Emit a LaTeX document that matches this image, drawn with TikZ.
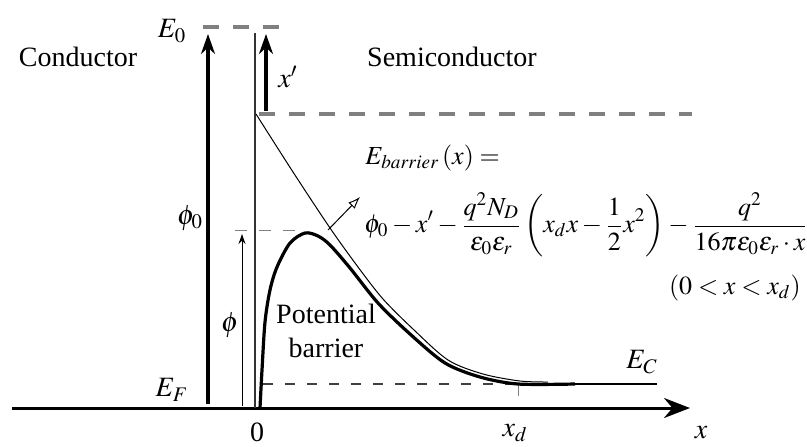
\documentclass[tikz,border=0pt]{standalone}
\usepackage{amsmath}
\usepackage{mathptmx}
\usepackage{fontspec}
\setmainfont{Liberation Serif}
\usetikzlibrary{arrows.meta,positioning}

\begin{document}
\begin{tikzpicture}[x=0.5pt, y=-0.5pt,
  txt/.style={font=\fontsize{14}{17}\selectfont, inner sep=0pt},
  eqtxt/.style={font=\fontsize{13}{16}\selectfont, inner sep=0pt},
  axis/.style={-{Stealth[length=13pt,width=10pt]}, line width=1.5pt},
  bigarrow/.style={-{Stealth[length=10pt,width=7pt]}, line width=#1},
  smallarrow/.style={-{Stealth[length=5pt,width=3.5pt]}, line width=0.5pt},
  openarrow/.style={-{Latex[open,length=6pt,width=4.5pt]}, line width=0.5pt},
  level/.style={gray, line width=2pt, dash pattern=on 8pt off 7pt},
  guide/.style={gray, line width=0.5pt, dash pattern=on 6pt off 6pt},
  fermi/.style={black!75, line width=0.9pt, dash pattern=on 5pt off 6pt},
  barrierline/.style={line width=1.6pt, line join=round}
]
\useasboundingbox (0,0) rectangle (807,446);

% key points
\coordinate (axL) at (12,408);
\coordinate (axR) at (690,408);
\coordinate (cB) at (208,404);
\coordinate (cT) at (208,34);
\coordinate (e0L) at (203,27);
\coordinate (e0R) at (280,27);
\coordinate (iT) at (255,33);
\coordinate (iB) at (255,408);
\coordinate (xpB) at (266,111);
\coordinate (xpT) at (266,34);
\coordinate (lvL) at (256,114);
\coordinate (lvM) at (259,114);
\coordinate (lvR) at (692,114);
\coordinate (phB) at (242,406);
\coordinate (phT) at (242,234);
\coordinate (p0L) at (235,230);
\coordinate (p0R) at (306,230);
\coordinate (efL) at (263,384);
\coordinate (xdE) at (518,384);
\coordinate (xdA) at (518,408);
\coordinate (ecR) at (657,384);
\coordinate (arS) at (328,230);
\coordinate (arT) at (360,197);

% energy axis
\draw[axis] (axL) -- (axR);

% conductor side
\draw[bigarrow=1.6pt] (cB) -- (cT);
\draw[level] (e0L) -- (e0R);
\draw[black!80, line width=0.8pt] (iT) -- (iB);
\draw[smallarrow] (phB) -- (phT);
\draw[guide] (p0L) -- (p0R);

% image force lowering
\draw[bigarrow=2pt] (xpB) -- (xpT);
\draw[level] (lvM) -- (lvR);

% band edges
\draw[fermi] (efL) -- (xdE);
\draw[guide] (xdE) -- (xdA);
\draw[line width=1.2pt] (xdE) -- (ecR);

% band without image force
\draw[line width=0.5pt] plot[smooth, tension=0.5] coordinates {
  (lvL) (293,172) (330,228) (358,267) (383,299) (413,329) (448,360) (483,374) (520,381) (548,382)};

% potential barrier
\draw[barrierline] plot[smooth, tension=0.5] coordinates {
  (260,408) (262,370) (265,322) (270,290) (277,267) (290,243) (305,233)
  (318,236) (330,245) (350,268) (378,303) (410,334) (445,363) (480,377) (xdE) (575,384)};

\draw[openarrow] (arS) -- (arT);

% labels
\node[txt] (cond) at (78,57) {Conductor};
\node[txt] (semi) at (452,57) {Semiconductor};
\node[txt] (E0) at (172,31) {$E_0$};
\node[txt] (xp) at (288,77) {$x'$};
\node[txt] (phi0) at (190,218) {$\phi_0$};
\node[txt] (phi) at (230,325) {$\phi$};
\node[txt] (EF) at (172,390) {$E_F$};
\node[txt, align=center] (pb) at (326,331) {Potential\\barrier};
\node[txt] (EC) at (642,362) {$E_C$};
\node[txt] (zero) at (257,432) {0};
\node[txt] (xd) at (515,433) {$x_d$};
\node[txt] (xax) at (701,433) {$x$};

% barrier formula
\node[eqtxt, anchor=west] (eqa) at (365,158) {$E_{barrier}\left(x\right)=$};
\node[eqtxt, anchor=west] (eqb) at (364,225)
  {$\displaystyle \phi_0-x'-\frac{q^2N_D}{\varepsilon_0\varepsilon_r}
   \left(x_d x-\frac{1}{2}x^2\right)-\frac{q^2}{16\pi\varepsilon_0\varepsilon_r\cdot x}$};
\node[eqtxt, anchor=east] (eqc) at (801,288) {$(0< x < x_d)$};

\end{tikzpicture}
\end{document}
